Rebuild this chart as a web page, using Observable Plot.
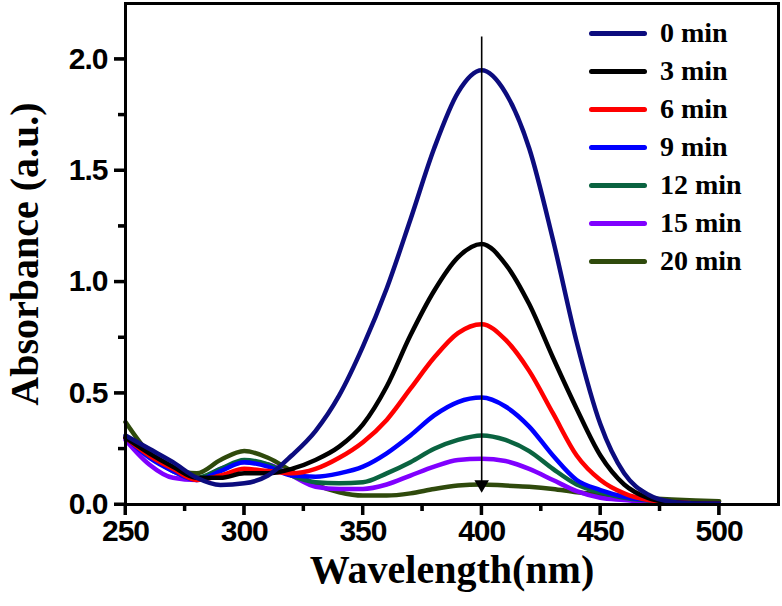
<!DOCTYPE html>
<html>
<head>
<meta charset="utf-8">
<script src="https://cdn.jsdelivr.net/npm/d3@7"></script>
<script src="https://cdn.jsdelivr.net/npm/@observablehq/plot@0.6"></script>
<style>
  body { margin: 0; background: white; color: black; }
  #wrap { position: relative; width: 782px; height: 606px; }
  #wrap svg { overflow: visible; }
  #wrap svg g[aria-label$="tick label"] { letter-spacing: -1px; }
  #legend { position: absolute; left: 589px; top: 14px; font-family: "Liberation Serif", "Times New Roman", serif; font-weight: bold; font-size: 28px; }
  .row { display: flex; align-items: center; height: 38px; }
  .sw { width: 58px; height: 5px; border-radius: 3px; margin-right: 13px; }
</style>
</head>
<body>
<div id="wrap"><div id="legend"></div></div>
<script>
const wavelength = [250,260,270,280,290,300,310,320,330,340,350,360,370,380,390,400,410,420,430,440,450,460,470,480,490,500];
const seriesLabels = ["0 min","3 min","6 min","9 min","12 min","15 min","20 min"];
const seriesColors = ["#0c0c7e","#000000","#ff0000","#0000ff","#0a6340","#8000ff","#2f4a0c"];
const abs0  = [0.31,0.25,0.19,0.12,0.088,0.095,0.13,0.22,0.33,0.49,0.71,0.97,1.28,1.60,1.85,1.95,1.85,1.60,1.19,0.73,0.36,0.14,0.045,0.012,0.004,0.003];
const abs3  = [0.30,0.23,0.17,0.12,0.12,0.14,0.14,0.16,0.20,0.26,0.36,0.53,0.76,0.96,1.11,1.17,1.08,0.90,0.66,0.43,0.22,0.09,0.03,0.01,0.005,0.003];
const abs6  = [0.30,0.22,0.16,0.11,0.13,0.16,0.15,0.14,0.16,0.21,0.28,0.38,0.52,0.66,0.77,0.81,0.74,0.60,0.41,0.22,0.11,0.05,0.02,0.01,0.005,0.003];
const abs9  = [0.30,0.21,0.15,0.11,0.15,0.19,0.17,0.13,0.125,0.14,0.17,0.23,0.31,0.40,0.46,0.48,0.44,0.35,0.22,0.11,0.065,0.035,0.02,0.01,0.005,0.003];
const abs12 = [0.30,0.22,0.15,0.12,0.16,0.20,0.18,0.13,0.10,0.095,0.10,0.14,0.19,0.25,0.29,0.31,0.29,0.24,0.16,0.09,0.055,0.03,0.018,0.01,0.005,0.003];
const abs15 = [0.29,0.18,0.12,0.11,0.16,0.19,0.18,0.13,0.08,0.07,0.07,0.09,0.13,0.17,0.20,0.205,0.195,0.16,0.11,0.06,0.03,0.02,0.01,0.006,0.004,0.003];
const abs20 = [0.37,0.23,0.16,0.14,0.20,0.24,0.21,0.15,0.09,0.055,0.04,0.04,0.05,0.07,0.085,0.09,0.085,0.08,0.07,0.055,0.045,0.035,0.028,0.022,0.018,0.015];
const xMajor = [250,300,350,400,450,500];
const xMinor = [275,325,375,425,475];
const yMajor = [0,0.5,1.0,1.5,2.0];
const yMinor = [0.25,0.75,1.25,1.75];
const arrowX = [400];
const arrowTop = 2.10, arrowBottom = 0.09;

const allSeries = [abs0, abs3, abs6, abs9, abs12, abs15, abs20];
const rows = [];
// draw from last to first so 0 min is on top
for (let s = allSeries.length - 1; s >= 0; s--) {
  wavelength.forEach((w, i) => rows.push({series: seriesLabels[s], wl: w, a: allSeries[s][i]}));
}

const serif = "'Liberation Serif', 'Times New Roman', serif";
const xDomain = [250, 525], yDomain = [0, 2.25];

const chart = Plot.plot({
  width: 782,
  height: 606,
  marginLeft: 125,
  marginRight: 4,
  marginTop: 3,
  marginBottom: 102,
  style: {fontFamily: "'Liberation Sans', Arial, sans-serif", fontWeight: "bold", background: "white", color: "black", overflow: "visible"},
  x: {domain: xDomain},
  y: {domain: yDomain},
  color: {domain: seriesLabels, range: seriesColors},
  marks: [
    Plot.line(rows, {x: "wl", y: "a", z: "series", stroke: "series", strokeWidth: 4.5, curve: "monotone-x"}),
    Plot.ruleX(arrowX, {y1: arrowBottom, y2: arrowTop, stroke: "black", strokeWidth: 1.6}),
    Plot.dot(arrowX, {x: d => d, y: arrowBottom, symbol: "triangle", rotate: 180, r: 5.4, fill: "black", stroke: "none"}),
    Plot.frame({stroke: "black", strokeWidth: 3}),
    Plot.axisX({ticks: xMajor, tickSize: 11, tickPadding: 4, strokeWidth: 3, stroke: "black", fontSize: 30, fontWeight: "bold", label: null, tickFormat: d3.format("d")}),
    Plot.axisX({ticks: xMinor, tickSize: 7, strokeWidth: 3, stroke: "black", text: null, label: null}),
    Plot.axisY({ticks: yMajor, tickSize: 11, tickPadding: 7, strokeWidth: 3, stroke: "black", fontSize: 30, fontWeight: "bold", label: null, tickFormat: d3.format(".1f")}),
    Plot.axisY({ticks: yMinor, tickSize: 7, strokeWidth: 3, stroke: "black", text: null, label: null}),
    Plot.axisX({ticks: [], tickSize: 0, label: "Wavelength(nm)", labelArrow: "none", labelAnchor: "center", labelOffset: 78, fontSize: 40, fontFamily: serif, fontWeight: "bold"}),
    Plot.axisY({ticks: [], tickSize: 0, label: "Absorbance (a.u.)", labelArrow: "none", labelAnchor: "center", labelOffset: 116, fontSize: 40, fontFamily: serif, fontWeight: "bold"})
  ]
});
const wrap = document.getElementById("wrap");
wrap.insertBefore(chart, wrap.firstChild);

// reinforce the outward tick marks using the plot's own scales
const sx = chart.scale("x").apply, sy = chart.scale("y").apply;
const gT = d3.select(chart).append("g").attr("stroke", "#000").attr("stroke-width", 3).attr("fill", "none");
const x0 = sx(xDomain[0]), y0 = sy(yDomain[0]);
xMajor.forEach(v => gT.append("path").attr("d", `M${sx(v)},${y0}V${y0 + 11}`));
xMinor.forEach(v => gT.append("path").attr("d", `M${sx(v)},${y0}V${y0 + 7}`));
yMajor.forEach(v => gT.append("path").attr("d", `M${x0},${sy(v)}H${x0 - 11}`));
yMinor.forEach(v => gT.append("path").attr("d", `M${x0},${sy(v)}H${x0 - 7}`));

const legend = document.getElementById("legend");
seriesLabels.forEach((lab, i) => {
  const row = document.createElement("div");
  row.className = "row";
  const sw = document.createElement("div");
  sw.className = "sw";
  sw.style.background = seriesColors[i];
  const tx = document.createElement("span");
  tx.textContent = lab;
  row.appendChild(sw);
  row.appendChild(tx);
  legend.appendChild(row);
});
</script>
</body>
</html>
